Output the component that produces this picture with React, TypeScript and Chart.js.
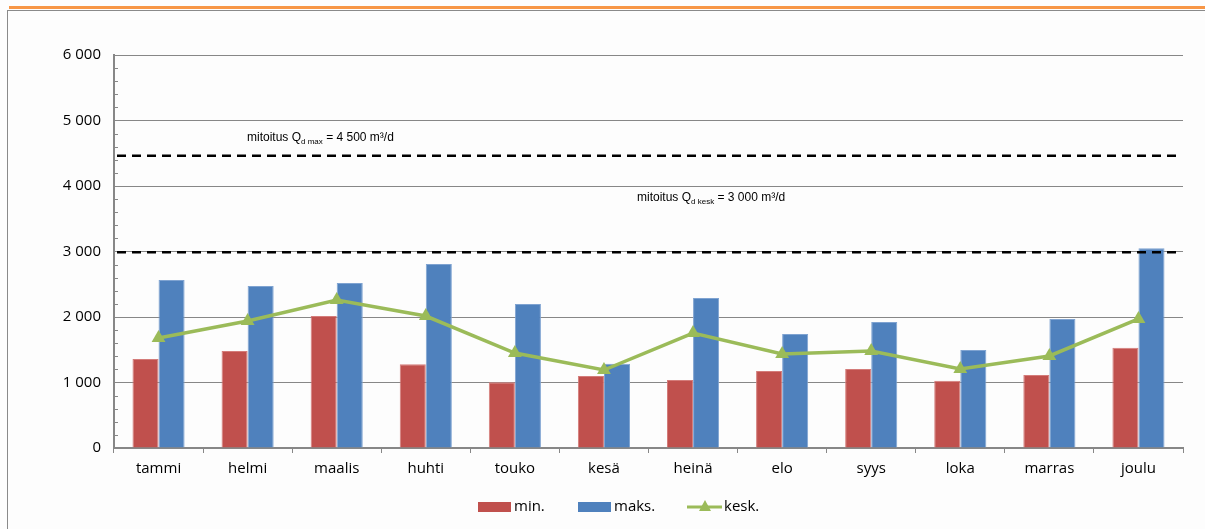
import React, { useEffect, useRef } from "react";
import { Chart, registerables } from "chart.js";

Chart.register(...registerables);

const months = ["tammi", "helmi", "maalis", "huhti", "touko", "kesä", "heinä", "elo", "syys", "loka", "marras", "joulu"];
const minValues = [1360, 1480, 2015, 1280, 1005, 1100, 1040, 1175, 1205, 1025, 1115, 1530];
const maxValues = [2565, 2475, 2520, 2810, 2200, 1285, 2290, 1740, 1925, 1495, 1970, 3050];
const avgValues = [1680, 1940, 2260, 2015, 1450, 1190, 1755, 1435, 1480, 1205, 1405, 1970];
const designMax = 4460;
const designAvg = 2990;
const yTickLabels = ["0", "1 000", "2 000", "3 000", "4 000", "5 000", "6 000"];
const seriesNames = ["min.", "maks.", "kesk."];

const RED = "#C0504D";
const BLUE = "#4F81BD";
const GREEN = "#9BBB59";
const GRID = "#878787";
const FONT = "'Liberation Sans', Arial, sans-serif";
const LABEL_FONT = "'Open Sans', 'Liberation Sans', sans-serif";
const OFF = 10; // canvas offset within page

const drawSubText = (ctx: CanvasRenderingContext2D, x: number, y: number, pre: string, sub: string, post: string) => {
  ctx.save();
  ctx.fillStyle = "#000";
  ctx.textBaseline = "alphabetic";
  ctx.textAlign = "left";
  ctx.font = `12px ${FONT}`;
  ctx.fillText(pre, x, y);
  let cx = x + ctx.measureText(pre).width;
  ctx.font = `8px ${FONT}`;
  ctx.fillText(sub, cx, y + 3);
  cx += ctx.measureText(sub).width;
  ctx.font = `12px ${FONT}`;
  ctx.fillText(post, cx, y);
  ctx.restore();
};

const overlayPlugin = {
  id: "overlay",
  afterDatasetsDraw(chart: any) {
    const { ctx, chartArea, scales } = chart;
    const y = scales.y;
    ctx.save();
    ctx.strokeStyle = GRID;
    ctx.lineWidth = 1;
    y.ticks.forEach((t: any) => {
      if (t.value % 1000 !== 0) {
        const py = Math.round(y.getPixelForValue(t.value)) + 0.5;
        ctx.beginPath();
        ctx.moveTo(chartArea.left, py);
        ctx.lineTo(chartArea.left + 4, py);
        ctx.stroke();
      }
    });
    ctx.strokeStyle = "#000";
    ctx.lineWidth = 2.5;
    ctx.setLineDash([9, 6]);
    [designMax, designAvg].forEach((v) => {
      const py = y.getPixelForValue(v);
      ctx.beginPath();
      ctx.moveTo(chartArea.left + 3, py);
      ctx.lineTo(chartArea.right - 6, py);
      ctx.stroke();
    });
    ctx.restore();
    drawSubText(ctx, chartArea.left + 133, y.getPixelForValue(designMax) - 15, "mitoitus Q", "d max", " = 4 500 m³/d");
    drawSubText(ctx, chartArea.left + 523, y.getPixelForValue(4000) + 15, "mitoitus Q", "d kesk", " = 3 000 m³/d");
  },
  afterDraw(chart: any) {
    const { ctx } = chart;
    ctx.save();
    ctx.translate(-OFF, -OFF);
    ctx.font = `15px ${LABEL_FONT}`;
    ctx.textBaseline = "middle";
    const cy = 507;
    ctx.fillStyle = RED;
    ctx.fillRect(478, 502, 33, 10);
    ctx.fillStyle = "#000";
    ctx.fillText(seriesNames[0], 514, cy);
    ctx.fillStyle = BLUE;
    ctx.fillRect(578, 502, 33, 10);
    ctx.fillStyle = "#000";
    ctx.fillText(seriesNames[1], 614, cy);
    ctx.strokeStyle = GREEN;
    ctx.lineWidth = 3;
    ctx.beginPath();
    ctx.moveTo(687, cy);
    ctx.lineTo(722, cy);
    ctx.stroke();
    ctx.fillStyle = GREEN;
    ctx.beginPath();
    ctx.moveTo(705, cy - 7);
    ctx.lineTo(711, cy + 4);
    ctx.lineTo(699, cy + 4);
    ctx.closePath();
    ctx.fill();
    ctx.fillStyle = "#000";
    ctx.fillText(seriesNames[2], 724, cy);
    ctx.restore();
  },
};

export default function App() {
  const ref = useRef<HTMLCanvasElement>(null);
  useEffect(() => {
    if (!ref.current) return;
    const chart = new Chart(ref.current, {
      type: "bar",
      data: {
        labels: months,
        datasets: [
          {
            type: "line" as const,
            label: seriesNames[2],
            data: avgValues,
            borderColor: GREEN,
            backgroundColor: GREEN,
            borderWidth: 3.5,
            pointStyle: "triangle",
            pointRadius: 8,
            pointBorderWidth: 0,
            tension: 0,
            order: 0,
          },
          {
            label: seriesNames[0],
            data: minValues,
            backgroundColor: RED,
            borderColor: "#D47C7A",
            borderWidth: 1,
            categoryPercentage: 0.585,
            barPercentage: 1,
            order: 1,
          },
          {
            label: seriesNames[1],
            data: maxValues,
            backgroundColor: BLUE,
            borderColor: "#7FA3D1",
            borderWidth: 1,
            categoryPercentage: 0.585,
            barPercentage: 1,
            order: 1,
          },
        ],
      },
      options: {
        animation: false,
        responsive: false,
        maintainAspectRatio: false,
        layout: { padding: { left: 0, right: 22, top: 45, bottom: 0 } },
        plugins: { legend: { display: false }, tooltip: { enabled: false } },
        scales: {
          x: {
            grid: { offset: true, drawOnChartArea: false, color: GRID, tickLength: 5, lineWidth: 1 },
            border: { color: GRID, width: 2 },
            ticks: { color: "#000", font: { family: LABEL_FONT, size: 15 }, padding: 7 },
            afterFit: (s: any) => { s.height = 81; },
          },
          y: {
            min: 0,
            max: 6000,
            ticks: {
              stepSize: 200,
              autoSkip: false,
              color: "#000",
              font: { family: LABEL_FONT, size: 15 },
              padding: 13,
              callback: (v: any) => (Number(v) % 1000 === 0 ? yTickLabels[Number(v) / 1000] : ""),
            },
            grid: {
              color: (c: any) => (c.tick && c.tick.value % 1000 === 0 ? GRID : "transparent"),
              drawTicks: false,
              lineWidth: 1,
            },
            border: { color: GRID, width: 2 },
            afterFit: (s: any) => { s.width = 104; },
          },
        },
      },
      plugins: [overlayPlugin],
    });
    return () => chart.destroy();
  }, []);
  return (
    <div style={{ position: "absolute", left: 0, top: 0, width: 1205, height: 529, background: "#fdfdfd", overflow: "hidden" }}>
      <div style={{ position: "absolute", left: 9, top: 6, width: 1196, height: 3, background: "#F79646" }} />
      <div style={{ position: "absolute", left: 7, top: 10, width: 1300, height: 600, borderTop: "1px solid #8a8a8a", borderLeft: "1px solid #8a8a8a" }} />
      <canvas ref={ref} width={1195} height={519} style={{ position: "absolute", left: OFF, top: OFF }} />
    </div>
  );
}
